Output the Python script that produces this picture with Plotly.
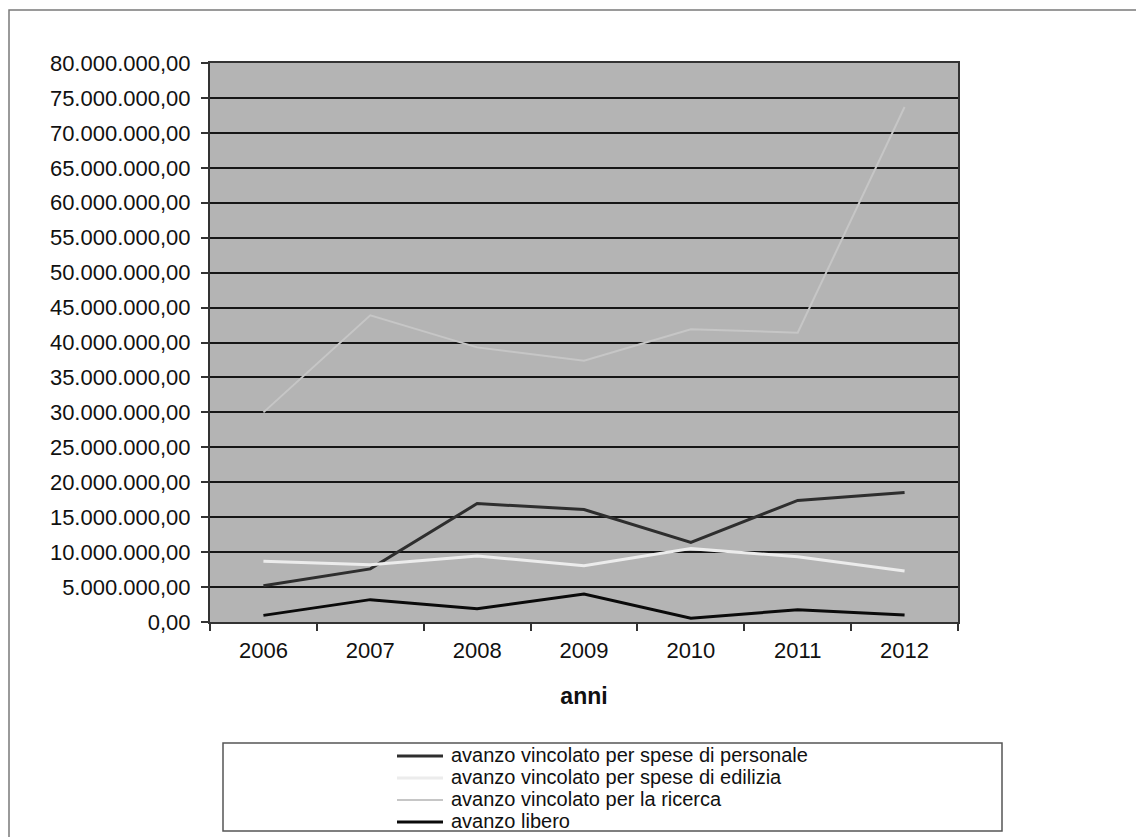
import plotly.graph_objects as go

# ---- data ----
anni = ["2006", "2007", "2008", "2009", "2010", "2011", "2012"]
personale = [5.2e6, 7.6e6, 16.95e6, 16.1e6, 11.4e6, 17.4e6, 18.55e6]
edilizia = [8.7e6, 8.2e6, 9.45e6, 8.05e6, 10.5e6, 9.35e6, 7.3e6]
ricerca = [30.0e6, 43.9e6, 39.3e6, 37.4e6, 41.9e6, 41.4e6, 73.7e6]
libero = [0.95e6, 3.2e6, 1.9e6, 4.0e6, 0.55e6, 1.75e6, 1.0e6]

series_names = [
    "avanzo vincolato per spese di personale",
    "avanzo vincolato per spese di edilizia",
    "avanzo vincolato per la ricerca",
    "avanzo libero",
]
series_values = [personale, edilizia, ricerca, libero]
series_colors = ["#2e2e2e", "#ececec", "#c6c6c6", "#0a0a0a"]
series_widths = [3, 3, 2, 3]

FONT = "Liberation Sans, Arial, sans-serif"
W, H = 1136, 837
L, R, T, B = 210, 958, 63, 622  # plot area in pixels


def px_x(x):
    return (x - L) / (R - L)


def px_y(y):
    return (B - y) / (B - T)


fig = go.Figure()
for name, vals, col, wid in zip(series_names, series_values, series_colors, series_widths):
    fig.add_trace(go.Scatter(
        x=anni, y=vals, name=name, mode="lines",
        line=dict(color=col, width=wid),
        showlegend=False,
        hovertemplate="%{x}: %{y:,.2f}<extra>" + name + "</extra>",
    ))

shapes = []
# outer chart frame (left & top visible, right/bottom run off the picture)
shapes.append(dict(type="rect", xref="paper", yref="paper",
                   x0=px_x(9), x1=px_x(1145), y0=px_y(10), y1=px_y(850),
                   line=dict(color="#7a7a7a", width=1.5), fillcolor="rgba(0,0,0,0)",
                   layer="below"))
# legend box
shapes.append(dict(type="rect", xref="paper", yref="paper",
                   x0=px_x(223), x1=px_x(1002), y0=px_y(743), y1=px_y(831),
                   line=dict(color="#555555", width=1.5), fillcolor="white"))

annotations = []
row_y = [755, 777, 799, 821]
for name, col, wid, yy in zip(series_names, series_colors, series_widths, row_y):
    shapes.append(dict(type="line", xref="paper", yref="paper",
                       x0=px_x(397), x1=px_x(443), y0=px_y(yy + 1), y1=px_y(yy + 1),
                       line=dict(color=col, width=wid)))
    annotations.append(dict(text=name, xref="paper", yref="paper",
                            x=px_x(449), y=px_y(yy), xanchor="left", yanchor="middle",
                            showarrow=False, font=dict(family=FONT, size=20, color="#111111")))

fig.update_layout(
    width=W, height=H,
    margin=dict(l=L, r=W - R, t=T, b=H - B, pad=0),
    paper_bgcolor="white",
    plot_bgcolor="#b4b4b4",
    separators=",.",
    font=dict(family=FONT, size=22, color="#111111"),
    shapes=shapes,
    annotations=annotations,
    showlegend=False,
)
fig.update_xaxes(
    type="category", range=[-0.5, 6.5],
    showgrid=False, tickson="boundaries",
    ticks="outside", ticklen=7, tickcolor="#333333", tickwidth=1.5,
    showline=True, linecolor="#333333", linewidth=2, mirror=True,
    tickfont=dict(family=FONT, size=22, color="#111111"),
    ticklabelstandoff=8,
    title=dict(text="<b>anni</b>", font=dict(family=FONT, size=23, color="#111111"), standoff=25),
)
fig.update_yaxes(
    range=[0, 80e6], dtick=5e6, tick0=0, tickformat=",.2f",
    showgrid=True, gridcolor="#161616", gridwidth=2,
    zeroline=False,
    ticks="outside", ticklen=7, tickcolor="#333333", tickwidth=1.5,
    showline=True, linecolor="#333333", linewidth=2, mirror=True,
    tickfont=dict(family=FONT, size=22, color="#111111"),
    ticklabelstandoff=6,
)

fig.write_html(
    "out.html",
    config={"displayModeBar": False},
    post_script="document.body.style.margin='0';document.body.style.overflow='hidden';",
)
